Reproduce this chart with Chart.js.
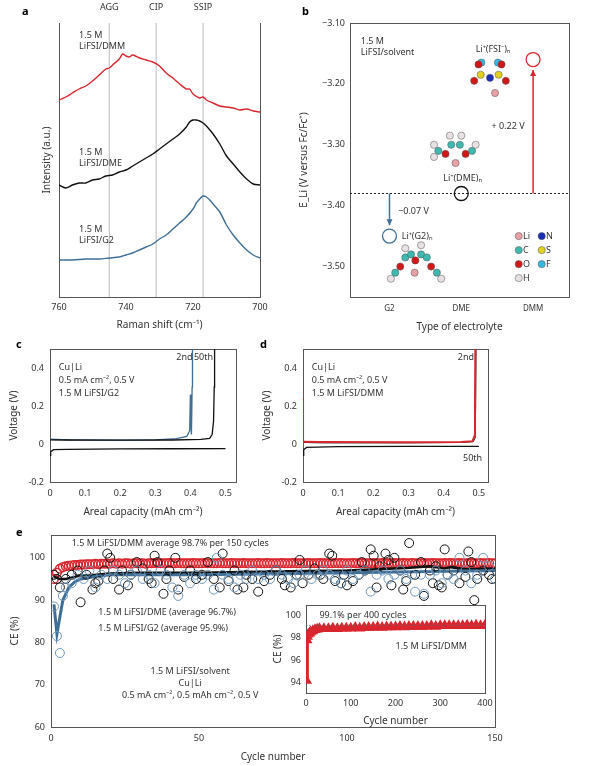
<!DOCTYPE html>
<html>
<head>
<meta charset="utf-8">
<script src="https://cdn.jsdelivr.net/npm/chart.js@4/dist/chart.umd.min.js"></script>
<style>
  html, body { margin: 0; padding: 0; background: #fff; }
  #lienzo { position: relative; width: 608px; height: 766px; }
  #lienzo canvas { position: absolute; left: 0; top: 0; }
</style>
</head>
<body>
<div id="lienzo">
  <canvas id="cA" width="608" height="766"></canvas>
  <canvas id="cB" width="608" height="766"></canvas>
  <canvas id="cC" width="608" height="766"></canvas>
  <canvas id="cD" width="608" height="766"></canvas>
  <canvas id="cE" width="608" height="766"></canvas>
  <canvas id="cF" width="608" height="766"></canvas>
</div>
<script>
// ============================================================
// FIGURA: Raman / E_Li / curvas de voltaje / CE
// ============================================================

const FUENTE = "'Noto Sans', 'DejaVu Sans', sans-serif";
const GRIS = "#333";
const MARCO = "#555";
const ROJO = "#d9262e";
const AZUL = "#3f6e97";
const AZUL_CLARO = "#6f97bd";

Chart.defaults.font.family = FUENTE;
Chart.defaults.font.size = 9;
Chart.defaults.color = GRIS;
Chart.defaults.animation = false;
Chart.defaults.responsive = false;
Chart.defaults.plugins.legend.display = false;
Chart.defaults.plugins.tooltip.enabled = false;

// ------------------------------------------------------------
// PLUGIN: textos y flechas en coordenadas de datos
// ------------------------------------------------------------
const anotaciones = {
  id: "anotaciones",
  afterDatasetsDraw(chart, args, opts) {
    const ctx = chart.ctx;
    const sx = chart.scales.x, sy = chart.scales.y;
    const px = (p) => (p.pix ? p.x : sx.getPixelForValue(p.x));
    const py = (p) => (p.pix ? p.y : sy.getPixelForValue(p.y));
    ctx.save();
    for (const f of opts.flechas || []) {
      const x1 = sx.getPixelForValue(f.x1), y1 = sy.getPixelForValue(f.y1);
      const x2 = sx.getPixelForValue(f.x2), y2 = sy.getPixelForValue(f.y2);
      ctx.strokeStyle = f.color; ctx.fillStyle = f.color; ctx.lineWidth = 1.5;
      ctx.beginPath(); ctx.moveTo(x1, y1); ctx.lineTo(x2, y2); ctx.stroke();
      const d = y2 > y1 ? -1 : 1;
      ctx.beginPath();
      ctx.moveTo(x2, y2); ctx.lineTo(x2 - 3, y2 + d * 6); ctx.lineTo(x2 + 3, y2 + d * 6);
      ctx.closePath(); ctx.fill();
    }
    for (const t of opts.textos || []) {
      ctx.font = t.font || `9px ${FUENTE}`;
      ctx.fillStyle = t.color || GRIS;
      ctx.textAlign = t.align || "left";
      ctx.textBaseline = "middle";
      const lineas = Array.isArray(t.t) ? t.t : [t.t];
      lineas.forEach((l, i) => ctx.fillText(l, px(t), py(t) + i * (t.lh || 11)));
    }
    ctx.restore();
  },
};

// ------------------------------------------------------------
// UBICAR EL ÁREA DEL GRÁFICO EN LA PÁGINA
// ------------------------------------------------------------
function marco(l, t, r, b, yW, xH) {
  return { padding: { left: l - yW, top: t, right: 608 - r, bottom: 766 - b - xH } };
}
const ejeY = (w) => (s) => { s.width = w; };
const ejeX = (h) => (s) => { s.height = h; };
const borde = { display: true, color: MARCO, width: 1 };
const sinTicks = { display: false };
const rejilla = { display: false, tickLength: 3 };

function ejeBorde(pos) {
  return { position: pos, display: true, ticks: sinTicks, grid: { display: false, drawTicks: false },
           border: borde, afterFit: (s) => { if (pos === "top") s.height = 0; else s.width = 0; } };
}

function tituloEje(texto) {
  return { display: true, text: texto, font: { size: 10 }, color: GRIS, padding: 0 };
}

// ------------------------------------------------------------
// (a) RAMAN
// ------------------------------------------------------------
const raman = {
  dmm: [[760,197],[758,200],[756,204],[754,208],[752,211],[750,216],[748,222],[746,228],[745,229],[744,232],[742,238],[741,243],[740,241],[739,240],[738,242],[736,239],[734,237],[732,235],[730,231],[728,224],[726,219],[724,213],[722,208],[721,208],[720,203],[718,199],[717,200],[716,197],[714,194],[712,191],[710,190],[708,189],[706,187],[704,188],[702,186],[700,185]],
  dme: [[760,112],[758,109],[756,112],[754,114],[752,114],[750,117],[748,118],[746,121],[744,122],[742,125],[740,127],[738,131],[736,135],[734,139],[732,143],[730,148],[728,153],[726,158],[724,163],[722,170],[721,175],[720,177],[719,177],[718,176],[717,174],[716,171],[714,163],[712,153],[710,141],[708,133],[706,125],[704,118],[702,113],[700,112]],
  g2: [[760,37],[756,37],[752,38],[748,38],[745,39],[742,40],[740,42],[738,44],[736,47],[734,50],[732,53],[730,58],[728,62],[726,68],[724,74],[722,80],[720,88],[719,94],[718,98],[717,101],[716,100],[715,97],[714,93],[712,85],[710,72],[708,62],[706,54],[704,47],[702,42],[700,39]],
};
const pts = (arr) => arr.map(([x, y]) => ({ x, y }));

new Chart(document.getElementById("cA"), {
  type: "line",
  data: { datasets: [
    { data: pts(raman.dmm), borderColor: ROJO, borderWidth: 1.4, pointRadius: 0, tension: 0.3 },
    { data: pts(raman.dme), borderColor: "#111", borderWidth: 1.4, pointRadius: 0, tension: 0.3 },
    { data: pts(raman.g2), borderColor: AZUL, borderWidth: 1.4, pointRadius: 0, tension: 0.3 },
    ...[745, 731, 717].map((v) => ({ data: [{ x: v, y: 0 }, { x: v, y: 274 }], borderColor: "#bbb", borderWidth: 1, pointRadius: 0 })),
  ] },
  options: {
    layout: marco(59, 23, 260, 297, 18, 34),
    scales: {
      x: { type: "linear", reverse: true, min: 700, max: 760, ticks: { stepSize: 20, padding: 2 }, grid: rejilla, border: borde,
           title: tituloEje("Raman shift (cm⁻¹)"), afterFit: ejeX(34) },
      y: { min: 0, max: 274, ticks: sinTicks, grid: { display: false }, border: borde, title: tituloEje("Intensity (a.u.)"), afterFit: ejeY(18) },
      y2: ejeBorde("right"),
    },
    plugins: { anotaciones: { textos: [
      { x: 745, y: 290, t: "AGG", align: "center" },
      { x: 731, y: 290, t: "CIP", align: "center" },
      { x: 717, y: 290, t: "SSIP", align: "center" },
      { x: 754, y: 262, t: ["1.5 M", "LiFSI/DMM"] },
      { x: 754, y: 145, t: ["1.5 M", "LiFSI/DME"] },
      { x: 754, y: 68, t: ["1.5 M", "LiFSI/G2"] },
      { pix: true, x: 22, y: 12, t: "a", font: `bold 11px ${FUENTE}`, color: "#000" },
    ] } },
  },
  plugins: [anotaciones],
});

// ------------------------------------------------------------
// (b) POTENCIAL E_Li
// ------------------------------------------------------------
const categorias = ["G2", "DME", "DMM"];
const eLi = [
  { x: 0, y: -3.45, color: AZUL },
  { x: 1, y: -3.38, color: "#111" },
  { x: 2, y: -3.16, color: ROJO },
];
const COL = { Li: "#e8a0a4", C: "#3fb8b0", O: "#d01818", H: "#e8e0e4", N: "#1a2fb8", S: "#e0d020", F: "#38b8e0" };
const moleculas = [
  // Li⁺(FSI⁻)ₙ
  ["O",1.18,-3.195],["S",1.27,-3.185],["F",1.28,-3.165],["O",1.24,-3.168],["N",1.4,-3.19],["S",1.52,-3.185],["F",1.51,-3.165],["O",1.56,-3.168],["O",1.62,-3.195],["Li",1.47,-3.215],
  // Li⁺(DME)ₙ
  ["H",0.62,-3.3],["C",0.68,-3.31],["H",0.62,-3.32],["O",0.78,-3.315],["C",0.86,-3.3],["H",0.84,-3.285],["C",0.98,-3.3],["H",1.0,-3.285],["O",1.06,-3.315],["C",1.15,-3.31],["H",1.2,-3.3],["Li",0.92,-3.33],
  // Li⁺(G2)ₙ
  ["H",0.02,-3.52],["C",0.08,-3.51],["O",0.15,-3.5],["C",0.22,-3.485],["H",0.22,-3.47],["C",0.3,-3.48],["O",0.36,-3.49],["C",0.44,-3.48],["H",0.44,-3.465],["C",0.52,-3.485],["O",0.58,-3.5],["C",0.66,-3.51],["H",0.72,-3.52],["Li",0.35,-3.51],
  // leyenda
  ["Li",1.8,-3.45],["C",1.8,-3.473],["O",1.8,-3.496],["H",1.8,-3.519],["N",2.12,-3.45],["S",2.12,-3.473],["F",2.12,-3.496],
];

new Chart(document.getElementById("cB"), {
  type: "scatter",
  data: { datasets: [
    { type: "line", data: [{ x: -0.55, y: -3.38 }, { x: 2.5, y: -3.38 }], borderColor: "#222", borderWidth: 1, borderDash: [2, 2], pointRadius: 0 },
    { data: eLi.map((p) => ({ x: p.x, y: p.y })), pointRadius: 7, pointBorderWidth: 1.3,
      pointBorderColor: eLi.map((p) => p.color), pointBackgroundColor: "rgba(0,0,0,0)" },
    { data: moleculas.map((m) => ({ x: m[1], y: m[2] })), pointRadius: 3.6, pointBorderWidth: 0.5, pointBorderColor: "#555",
      pointBackgroundColor: moleculas.map((m) => COL[m[0]]) },
  ] },
  options: {
    layout: marco(350, 23, 569, 297, 52, 36),
    scales: {
      x: { type: "linear", min: -0.55, max: 2.5, grid: rejilla, border: borde,
           afterBuildTicks: (s) => { s.ticks = [0, 1, 2].map((v) => ({ value: v })); },
           ticks: { callback: (v) => categorias[v] ?? "", font: { size: 8 }, padding: 4 },
           title: tituloEje("Type of electrolyte"), afterFit: ejeX(36) },
      y: { min: -3.55, max: -3.1, grid: rejilla, border: borde,
           afterBuildTicks: (s) => { s.ticks = [-3.5, -3.4, -3.3, -3.2, -3.1].map((v) => ({ value: v })); },
           ticks: { callback: (v) => "−" + Math.abs(v).toFixed(2), padding: 2 },
           title: tituloEje("E_Li (V versus Fc/Fc⁺)"), afterFit: ejeY(52) },
      x2: ejeBorde("top"), y2: ejeBorde("right"),
    },
    plugins: { anotaciones: {
      flechas: [
        { x1: 0, y1: -3.38, x2: 0, y2: -3.432, color: AZUL },
        { x1: 2, y1: -3.38, x2: 2, y2: -3.177, color: ROJO },
      ],
      textos: [
        { x: -0.4, y: -3.13, t: ["1.5 M", "LiFSI/solvent"] },
        { x: 1.2, y: -3.144, t: "Li⁺(FSI⁻)ₙ" },
        { x: 1.42, y: -3.27, t: "+ 0.22 V" },
        { x: 0.75, y: -3.355, t: "Li⁺(DME)ₙ" },
        { x: 0.12, y: -3.41, t: "−0.07 V" },
        { x: 0.17, y: -3.45, t: "Li⁺(G2)ₙ" },
        { x: 1.86, y: -3.45, t: "Li" }, { x: 1.86, y: -3.473, t: "C" }, { x: 1.86, y: -3.496, t: "O" }, { x: 1.86, y: -3.519, t: "H" },
        { x: 2.18, y: -3.45, t: "N" }, { x: 2.18, y: -3.473, t: "S" }, { x: 2.18, y: -3.496, t: "F" },
        { pix: true, x: 302, y: 12, t: "b", font: `bold 11px ${FUENTE}`, color: "#000" },
      ] } },
  },
  plugins: [anotaciones],
});

// ------------------------------------------------------------
// (c) y (d) CURVAS DE VOLTAJE
// ------------------------------------------------------------
const voltajeG2 = {
  deposito: [[0,-0.06],[0.002,-0.04],[0.01,-0.03],[0.05,-0.028],[0.2,-0.026],[0.35,-0.025],[0.5,-0.024]],
  segundo: [[0,0.022],[0.05,0.021],[0.2,0.02],[0.35,0.021],[0.43,0.024],[0.455,0.03],[0.462,0.05],[0.466,0.12],[0.468,0.3],[0.469,0.5]],
  cincuenta: [[0,0.025],[0.05,0.022],[0.2,0.02],[0.3,0.022],[0.36,0.028],[0.39,0.04],[0.398,0.07],[0.4,0.26],[0.401,0.12],[0.403,0.05],[0.405,0.3],[0.406,0.5]],
};
const voltajeDMM = {
  deposito: [[0,-0.06],[0.002,-0.03],[0.01,-0.018],[0.1,-0.014],[0.3,-0.013],[0.5,-0.012]],
  pico: [[0,-0.02],[0.001,0.24],[0.002,0.01]],
  segundo: [[0,0.012],[0.05,0.01],[0.3,0.009],[0.45,0.011],[0.482,0.015],[0.487,0.04],[0.489,0.2],[0.49,0.5]],
  cincuenta: [[0,0.008],[0.05,0.006],[0.3,0.006],[0.45,0.008],[0.484,0.012],[0.489,0.03],[0.491,0.2],[0.492,0.5]],
};
const linea = (arr, color, w) => ({ type: "line", data: pts(arr), borderColor: color, borderWidth: w || 1.3, pointRadius: 0 });

function panelVoltaje(id, l, r, maxX, series, textos) {
  new Chart(document.getElementById(id), {
    type: "line",
    data: { datasets: series },
    options: {
      layout: marco(l, 349, r, 482, 42, 36),
      scales: {
        x: { type: "linear", min: 0, max: maxX, grid: rejilla, border: borde,
             afterBuildTicks: (s) => { s.ticks = [0, 0.1, 0.2, 0.3, 0.4, 0.5].map((v) => ({ value: v })); },
             ticks: { callback: (v) => (v === 0 ? "0" : v.toFixed(1)), padding: 3 },
             title: tituloEje("Areal capacity (mAh cm⁻²)"), afterFit: ejeX(36) },
        y: { min: -0.2, max: 0.5, grid: rejilla, border: borde,
             afterBuildTicks: (s) => { s.ticks = [-0.2, 0, 0.2, 0.4].map((v) => ({ value: v })); },
             ticks: { callback: (v) => (v === 0 ? "0" : v.toFixed(1)), padding: 3 },
             title: tituloEje("Voltage (V)"), afterFit: ejeY(42) },
        x2: ejeBorde("top"), y2: ejeBorde("right"),
      },
      plugins: { anotaciones: { textos } },
    },
    plugins: [anotaciones],
  });
}

panelVoltaje("cC", 50, 236, 0.53, [
  linea(voltajeG2.deposito, "#111"),
  linea(voltajeG2.segundo, "#111"),
  linea(voltajeG2.cincuenta, AZUL),
], [
  { x: 0.025, y: 0.405, t: ["Cu|Li", "0.5 mA cm⁻², 0.5 V", "1.5 M LiFSI/G2"], lh: 13 },
  { x: 0.36, y: 0.455, t: "2nd" },
  { x: 0.41, y: 0.455, t: "50th" },
  { pix: true, x: 16, y: 345, t: "c", font: `bold 11px ${FUENTE}`, color: "#000" },
]);

panelVoltaje("cD", 303, 488, 0.526, [
  linea(voltajeDMM.deposito, "#111"),
  linea(voltajeDMM.pico, ROJO, 1),
  linea(voltajeDMM.segundo, ROJO, 2),
  linea(voltajeDMM.cincuenta, "#111", 1),
], [
  { x: 0.025, y: 0.405, t: ["Cu|Li", "0.5 mA cm⁻², 0.5 V", "1.5 M LiFSI/DMM"], lh: 13 },
  { x: 0.44, y: 0.455, t: "2nd" },
  { x: 0.455, y: -0.075, t: "50th" },
  { pix: true, x: 260, y: 345, t: "d", font: `bold 11px ${FUENTE}`, color: "#000" },
]);

// ------------------------------------------------------------
// (e) EFICIENCIA COULÓMBICA
// ------------------------------------------------------------
const ceDMM = [95,96.5,97.4,97.8,98,98.1,98.2,98.3,98.3,98.4,98.4,98.5,98.5,98.5,98.6,98.5,98.6,98.6,98.6,98.6,
  98.7,98.6,98.7,98.6,98.7,98.7,98.6,98.7,98.7,98.7,98.7,98.6,98.7,98.7,98.8,98.7,98.7,98.7,98.7,98.8,
  98.7,98.7,98.8,98.7,98.7,98.7,98.7,98.8,98.7,98.7,98.7,98.8,98.7,98.7,98.7,98.7,98.8,98.7,98.7,98.7,
  98.8,98.7,98.7,98.7,98.8,98.7,98.7,98.7,98.7,98.8,98.7,98.7,98.8,98.7,98.7,98.7,98.7,98.8,98.7,98.7,
  98.7,98.8,98.7,98.7,98.7,98.7,98.8,98.7,98.7,98.7,98.8,98.7,98.7,98.7,98.7,98.8,98.7,98.8,98.7,98.7,
  98.7,98.8,98.7,98.7,98.8,98.7,98.7,98.7,98.8,98.7,98.7,98.8,98.7,98.7,98.7,98.8,98.7,98.7,98.8,98.7,
  98.7,98.8,98.7,98.7,98.7,98.8,98.7,98.7,98.8,98.7,98.7,98.7,98.8,98.7,98.8,98.7,98.7,98.8,98.7,98.7,
  98.7,98.8,98.7,98.7,98.8,98.7,98.7,98.8,98.7,98.7];

const ceDME = [[1,96],[2,95],[3,93],[5,95],[7,96],[9,97],[10,89.5],[12,96],[14,92.5],[15,94],[16,94.5],[18,97],[19,101],[20,100],[21,95],[23,92.5],[24,97],[26,93.5],[27,96],[29,99],[31,97.5],[33,95],[34,94],[35,100.5],[36,99],[38,91.5],[39,95],[40,97],[42,100],[43,92.5],[45,95.5],[47,97],[49,95],[51,96],[53,99],[55,95],[57,93],[58,101],[60,94.5],[62,97],[63,92.5],[65,93],[66,96],[68,95],[70,92],[72,94.5],[74,96],[76,97],[78,95],[79,93.5],[81,93],[83,96],[84,99.5],[85,94],[87,96],[89,97.5],[91,96],[92,95],[94,101],[95,100.5],[96,94.5],[98,94],[99,96],[100,93.5],[102,94.5],[104,96],[105,99],[106,97],[108,102],[109,100.5],[110,93],[111,98],[113,101],[114,99.5],[115,93.5],[116,100],[118,97],[119,92.5],[120,94.5],[121,103.5],[123,96],[125,99],[126,91],[128,97],[129,94],[130,98],[131,93.5],[132,93],[133,102],[134,96],[136,97],[138,94],[140,95.5],[141,101.5],[142,99],[143,90],[144,95],[146,97],[148,96],[149,95]];

const ceG2 = [[1,88.5],[2,81.5],[3,77.5],[4,91],[5,93],[7,94],[9,96],[11,95],[13,97],[15,93],[17,96],[19,95],[21,97],[23,96],[25,94],[27,96],[29,97],[31,95],[33,96],[35,94],[37,97],[39,96],[41,93],[43,91],[45,96],[47,94],[49,96],[51,95],[53,96],[55,92.5],[56,100],[58,96],[60,95],[62,93],[64,96],[66,95],[68,97],[70,95],[72,96],[74,95],[76,97],[78,96],[80,95],[82,94],[84,96],[86,97],[88,95],[90,96],[92,97],[94,96],[96,95],[98,94],[100,97],[102,95],[104,96],[106,97],[108,92],[110,96],[112,97],[114,95],[116,96],[118,97],[120,95],[122,96],[123,92],[125,96],[126,91.5],[128,96],[130,97],[132,94],[134,96],[136,95],[138,100],[140,97],[142,94],[144,96],[146,100],[148,98],[150,95]];

const tendDME = [[1,95.5],[3,95],[5,95],[8,95.5],[10,95.8],[15,96],[20,96.3],[30,96.5],[50,96.5],[80,96.8],[100,97],[110,97.3],[120,97.6],[128,98],[133,97.5],[135,97.8],[140,97.3],[150,97.5]];
const tendG2 = [[1,89],[2,82],[3,86],[4,90],[6,93],[8,94.3],[10,95],[15,95.6],[20,96],[50,96],[100,96.5],[150,97]];

const circulo = (arr, color, r, w) => ({ type: "scatter", data: pts(arr), pointRadius: r, pointBorderWidth: w || 1,
  pointBorderColor: color, pointBackgroundColor: "rgba(0,0,0,0)" });

new Chart(document.getElementById("cE"), {
  type: "scatter",
  data: { datasets: [
    circulo(ceG2, AZUL_CLARO, 4.5),
    circulo(ceDME, "#111", 4.5),
    linea(tendG2, AZUL, 3),
    linea(tendDME, "#111", 2.5),
    circulo(ceDMM.map((v, i) => [i + 1, v]), ROJO, 4.3, 1.4),
  ] },
  options: {
    layout: marco(51, 535, 495, 727, 42, 36),
    scales: {
      x: { type: "linear", min: 0, max: 150, grid: rejilla, border: borde, ticks: { stepSize: 50, padding: 3 },
           title: tituloEje("Cycle number"), afterFit: ejeX(36) },
      y: { min: 60, max: 105.4, grid: rejilla, border: borde,
           afterBuildTicks: (s) => { s.ticks = [60, 70, 80, 90, 100].map((v) => ({ value: v })); },
           ticks: { padding: 3 },
           title: tituloEje("CE (%)"), afterFit: ejeY(42) },
      x2: ejeBorde("top"), y2: ejeBorde("right"),
    },
    plugins: { anotaciones: { textos: [
      { x: 7, y: 103.5, t: "1.5 M LiFSI/DMM average 98.7% per 150 cycles" },
      { x: 16, y: 87, t: "1.5 M LiFSI/DME (average 96.7%)" },
      { x: 16, y: 83.2, t: "1.5 M LiFSI/G2 (average 95.9%)" },
      { x: 47, y: 73.2, t: ["1.5 M LiFSI/solvent", "Cu|Li", "0.5 mA cm⁻², 0.5 mAh cm⁻², 0.5 V"], align: "center", lh: 12 },
      { pix: true, x: 16, y: 533, t: "e", font: `bold 11px ${FUENTE}`, color: "#000" },
    ] } },
  },
  plugins: [anotaciones],
});

// recuadro interior: 400 ciclos
const ceDMM400 = [[1,94.2],[2,97.8],[3,98.1],[5,98.3],[8,98.4],[10,98.5],[15,98.6],[20,98.7],[25,98.75],[30,98.8],[40,98.8],[50,98.8],[60,98.85],[70,98.8],[80,98.85],[90,98.85],[100,98.85],[110,98.9],[120,98.85],[130,98.9],[140,98.9],[150,98.9],[160,98.95],[170,98.9],[180,98.95],[190,98.95],[200,98.95],[210,99],[220,98.95],[230,99],[240,99],[250,99],[260,99],[270,99],[280,99.05],[290,99],[300,99.05],[310,99.05],[320,99.05],[330,99.05],[340,99.05],[350,99.05],[360,99.1],[370,99.05],[380,99.1],[390,99.05],[400,99.1]];

new Chart(document.getElementById("cF"), {
  type: "scatter",
  data: { datasets: [
    { type: "line", data: [{ x: 0, y: 99.1 }, { x: 400, y: 99.1 }], borderColor: "#666", borderWidth: 0.8, borderDash: [1.5, 1.5], pointRadius: 0 },
    { type: "line", data: pts(ceDMM400), borderColor: ROJO, borderWidth: 4, pointRadius: 2.5, pointStyle: "triangle",
      pointBackgroundColor: ROJO, pointBorderColor: ROJO },
  ] },
  options: {
    layout: marco(306, 605, 485, 693, 34, 34),
    scales: {
      x: { type: "linear", min: 0, max: 400, grid: rejilla, border: borde, ticks: { stepSize: 100, padding: 2 },
           title: tituloEje("Cycle number"), afterFit: ejeX(34) },
      y: { min: 93.1, max: 100.9, grid: rejilla, border: borde,
           afterBuildTicks: (s) => { s.ticks = [94, 96, 98, 100].map((v) => ({ value: v })); },
           ticks: { padding: 2 },
           title: tituloEje("CE (%)"), afterFit: ejeY(34) },
      x2: ejeBorde("top"), y2: ejeBorde("right"),
    },
    plugins: { anotaciones: { textos: [
      { x: 30, y: 100, t: "99.1% per 400 cycles" },
      { x: 200, y: 97.2, t: "1.5 M LiFSI/DMM" },
    ] } },
  },
  plugins: [anotaciones],
});
</script>
</body>
</html>
